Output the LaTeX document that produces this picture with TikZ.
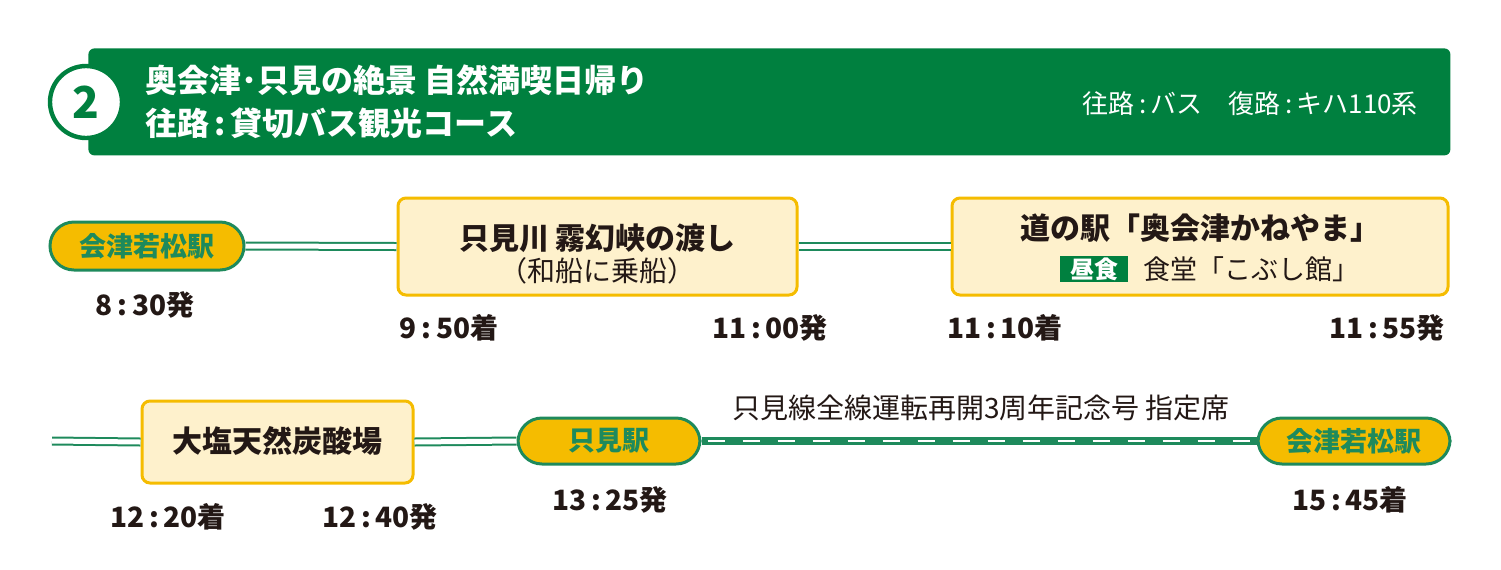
\documentclass[tikz,border=0pt]{standalone}
\usepackage{fontspec}
\setmainfont{Noto Sans CJK JP}
\definecolor{bgreen}{HTML}{00803F}
\definecolor{lgreen}{HTML}{1E8A5C}
\definecolor{gold}{HTML}{F5BC00}
\definecolor{cream}{HTML}{FEF1CC}
\definecolor{ink}{HTML}{231815}
\begin{document}
\begin{tikzpicture}[x=0.5pt,y=-0.5pt,
  pill/.style={draw=lgreen,line width=1.5pt,fill=gold,rounded corners=12pt,inner sep=0pt,text=lgreen,font=\fontsize{13.5}{15}\bfseries\selectfont},
  spot/.style={draw=gold,line width=1.5pt,fill=cream,rounded corners=4pt,inner sep=0pt},
  tm/.style={text=ink,font=\fontsize{14}{16}\bfseries\selectfont},
  dbl/.style={draw=lgreen,line width=4.5pt,double=white,double distance=2.5pt,line width=1pt},
  rail/.style={draw=lgreen,line width=4pt},
  raild/.style={draw=white,line width=1.3pt,dash pattern=on 8.5pt off 9pt}]
\useasboundingbox (0,0) rectangle (1501,569);
% banner
\node[fill=bgreen,rounded corners=3pt,minimum width=681pt,minimum height=53.5pt,inner sep=0pt,anchor=north west] (ban) at (88,48) {};
\node[circle,fill=white,draw=bgreen,line width=2.2pt,minimum size=36pt,inner sep=0pt,text=bgreen,font=\fontsize{22}{22}\bfseries\selectfont] (num) at (86,102) {2};
\node[anchor=west,text=white,font=\fontsize{16}{18}\bfseries\selectfont] (t1) at (138,80) {奥会津･只見の絶景 自然満喫日帰り};
\node[anchor=west,text=white,font=\fontsize{16}{18}\bfseries\selectfont] (t2) at (138,123) {往路\,:\,貸切バス観光コース};
\node[anchor=east,text=white,font=\fontsize{13}{15}\selectfont] (t3) at (1425,104) {往路\,:\,バス\quad 復路\,:\,キハ110系};
% row 1
\node[pill,minimum width=97pt,minimum height=24pt] (s1) at (147,246) {会津若松駅};
\node[spot,minimum width=199.5pt,minimum height=48.5pt] (b1) at (597.5,246.5) {};
\node[font=\fontsize{15}{17}\bfseries\selectfont,text=ink] (b1a) at (597.5,238) {只見川 霧幻峡の渡し};
\node[font=\fontsize{14}{16}\selectfont,text=ink] (b1b) at (597.5,271) {（和船に乗船）};
\node[spot,minimum width=248pt,minimum height=48.5pt] (b2) at (1200,246.5) {};
\node[font=\fontsize{15}{17}\bfseries\selectfont,text=ink] (b2a) at (1200,228) {道の駅「奥会津かねやま」};
\node[fill=bgreen,text=white,minimum width=34pt,minimum height=13pt,inner sep=0pt,font=\fontsize{12}{13}\bfseries\selectfont] (lunch) at (1094,269) {昼食};
\node[anchor=west,font=\fontsize{13.5}{15}\selectfont,text=ink] (b2b) at (1136,269) {食堂「こぶし館」};
\draw[dbl] (s1.east) -- (b1.west);
\draw[dbl] (b1.east) -- (b2.west);
\node[tm] (m1) at (145,305) {8\,:\,30発};
\node[tm] (m2) at (449,328) {9\,:\,50着};
\node[tm] (m3) at (770,328) {11\,:\,00発};
\node[tm] (m4) at (1005,328) {11\,:\,10着};
\node[tm] (m5) at (1387,328) {11\,:\,55発};
% row 2
\coordinate (st) at (52,441);
\node[spot,minimum width=135.5pt,minimum height=41pt] (b3) at (277.5,442) {};
\node[font=\fontsize{15}{17}\bfseries\selectfont,text=ink] (b3a) at (277.5,441) {大塩天然炭酸場};
\node[pill,minimum width=91pt,minimum height=23pt] (s2) at (609,441) {只見駅};
\node[pill,minimum width=96pt,minimum height=23pt] (s3) at (1354,441) {会津若松駅};
\draw[dbl] (st) -- (b3.west);
\draw[dbl] (b3.east) -- (s2.west);
\draw[rail] (s2.east) -- (s3.west);
\draw[raild] ([xshift=3pt]s2.east) -- (s3.west);
\node[font=\fontsize{14}{16}\selectfont,text=ink] (lab) at (981,408) {只見線全線運転再開3周年記念号 指定席};
\node[tm] (m6) at (168,517) {12\,:\,20着};
\node[tm] (m7) at (380,517) {12\,:\,40発};
\node[tm] (m8) at (610,500) {13\,:\,25発};
\node[tm] (m9) at (1350,500) {15\,:\,45着};
\end{tikzpicture}
\end{document}
